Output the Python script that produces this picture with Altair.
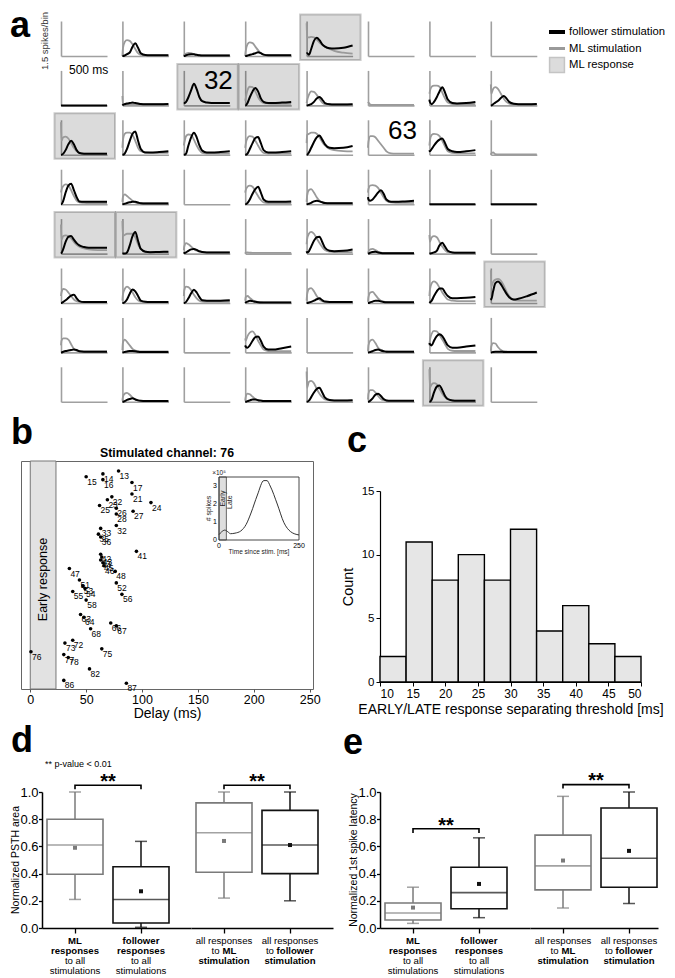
import altair as alt
import pandas as pd

FONT = "Liberation Sans"

# ---------------- panel a : PSTH grid (8 x 8 electrodes) ----------------
PSTH_T = [0, 5, 25, 50, 80, 110, 140, 170, 200, 250, 300, 400, 500]  # ms

ML_STIM = {  # grey traces, spikes/bin at PSTH_T
    (1, 2): [0, 0.3, 0.6, 0.68, 0.65, 0.5, 0.3, 0.12, 0.05, 0.03, 0.03, 0.03, 0.03],
    (1, 3): [0, 0.05, 0.1, 0.13, 0.12, 0.08, 0.05, 0.04, 0.03, 0.03, 0.03, 0.03, 0.03],
    (1, 4): [0, 0.2, 0.5, 0.58, 0.55, 0.4, 0.25, 0.12, 0.06, 0.04, 0.03, 0.03, 0.03],
    (1, 5): [1.4, 0.8, 0.8, 0.82, 0.8, 0.7, 0.58, 0.48, 0.4, 0.3, 0.22, 0.14, 0.1],
    (2, 2): [0.4, 0.08, 0.06, 0.05, 0.05, 0.05, 0.05, 0.05, 0.05, 0.05, 0.05, 0.05, 0.05],
    (2, 4): [0.2, 0.3, 0.65, 0.8, 0.78, 0.6, 0.35, 0.18, 0.1, 0.08, 0.07, 0.07, 0.07],
    (2, 5): [0.1, 0.2, 0.45, 0.6, 0.58, 0.45, 0.28, 0.12, 0.06, 0.05, 0.04, 0.04, 0.04],
    (2, 6): [0.15, 0.12, 0.04, 0.02, 0.02, 0.02, 0.02, 0.02, 0.02, 0.02, 0.02, 0.02, 0.02],
    (2, 7): [0.5, 0.6, 0.8, 0.85, 0.85, 0.8, 0.55, 0.3, 0.12, 0.06, 0.05, 0.05, 0.05],
    (2, 8): [0.9, 0.5, 0.7, 0.78, 0.7, 0.5, 0.3, 0.15, 0.08, 0.05, 0.04, 0.04, 0.04],
    (3, 1): [1.4, 0.6, 0.75, 0.78, 0.7, 0.5, 0.3, 0.15, 0.08, 0.05, 0.05, 0.05, 0.05],
    (3, 2): [0.3, 0.6, 0.9, 0.95, 0.95, 0.85, 0.6, 0.3, 0.15, 0.1, 0.08, 0.08, 0.08],
    (3, 3): [0.4, 0.5, 0.8, 0.87, 0.85, 0.65, 0.4, 0.2, 0.08, 0.05, 0.05, 0.05, 0.05],
    (3, 4): [0.3, 0.45, 0.72, 0.8, 0.78, 0.6, 0.4, 0.2, 0.08, 0.05, 0.05, 0.05, 0.05],
    (3, 5): [0.5, 0.85, 0.9, 0.95, 0.95, 0.9, 0.75, 0.55, 0.4, 0.25, 0.2, 0.16, 0.15],
    (3, 6): [0.3, 0.55, 0.8, 0.8, 0.75, 0.6, 0.45, 0.3, 0.15, 0.06, 0.05, 0.05, 0.05],
    (3, 7): [0.4, 0.6, 0.85, 0.9, 0.88, 0.8, 0.6, 0.35, 0.15, 0.08, 0.06, 0.06, 0.06],
    (3, 8): [0, 0.05, 0.1, 0.03, 0.02, 0.02, 0.02, 0.02, 0.02, 0.02, 0.02, 0.02, 0.02],
    (4, 1): [0.5, 0.6, 0.78, 0.85, 0.8, 0.6, 0.35, 0.15, 0.08, 0.06, 0.05, 0.05, 0.05],
    (4, 2): [0.1, 0.3, 0.42, 0.35, 0.25, 0.15, 0.08, 0.05, 0.04, 0.04, 0.04, 0.04, 0.04],
    (4, 4): [0.5, 0.6, 0.75, 0.8, 0.75, 0.55, 0.35, 0.18, 0.08, 0.05, 0.05, 0.05, 0.05],
    (4, 5): [0.1, 0.35, 0.6, 0.65, 0.5, 0.3, 0.15, 0.08, 0.05, 0.04, 0.04, 0.04, 0.04],
    (4, 6): [0.5, 0.65, 0.8, 0.82, 0.8, 0.7, 0.5, 0.3, 0.15, 0.08, 0.06, 0.06, 0.06],
    (5, 1): [1.25, 0.6, 0.75, 0.78, 0.75, 0.65, 0.5, 0.38, 0.3, 0.22, 0.18, 0.15, 0.15],
    (5, 2): [1.4, 0.75, 0.8, 0.85, 0.85, 0.85, 0.7, 0.4, 0.2, 0.08, 0.06, 0.06, 0.06],
    (5, 3): [0.15, 0.3, 0.45, 0.4, 0.3, 0.2, 0.12, 0.08, 0.06, 0.05, 0.05, 0.05, 0.05],
    (5, 4): [0, 0.04, 0.05, 0.04, 0.03, 0.03, 0.03, 0.03, 0.03, 0.03, 0.03, 0.03, 0.03],
    (5, 5): [0.4, 0.6, 0.85, 0.93, 0.85, 0.65, 0.45, 0.28, 0.15, 0.08, 0.06, 0.06, 0.06],
    (5, 6): [0, 0.08, 0.18, 0.2, 0.15, 0.08, 0.04, 0.03, 0.03, 0.03, 0.03, 0.03, 0.03],
    (5, 7): [0.8, 0.5, 0.7, 0.75, 0.7, 0.5, 0.3, 0.15, 0.06, 0.04, 0.04, 0.04, 0.04],
    (6, 1): [0.3, 0.45, 0.6, 0.58, 0.45, 0.3, 0.15, 0.08, 0.05, 0.04, 0.04, 0.04, 0.04],
    (6, 2): [0.1, 0.35, 0.6, 0.7, 0.62, 0.45, 0.25, 0.12, 0.06, 0.04, 0.04, 0.04, 0.04],
    (6, 3): [0.3, 0.55, 0.7, 0.68, 0.55, 0.35, 0.2, 0.1, 0.06, 0.05, 0.05, 0.05, 0.05],
    (6, 4): [0.1, 0.25, 0.3, 0.22, 0.12, 0.07, 0.05, 0.04, 0.03, 0.03, 0.03, 0.03, 0.03],
    (6, 5): [0.1, 0.35, 0.6, 0.64, 0.5, 0.3, 0.15, 0.08, 0.05, 0.04, 0.04, 0.04, 0.04],
    (6, 6): [0.05, 0.25, 0.45, 0.48, 0.35, 0.2, 0.1, 0.06, 0.04, 0.03, 0.03, 0.03, 0.03],
    (6, 7): [0.3, 0.55, 0.85, 0.93, 0.85, 0.65, 0.45, 0.28, 0.15, 0.1, 0.08, 0.08, 0.08],
    (6, 8): [1.4, 0.7, 0.9, 1.0, 1.03, 0.95, 0.75, 0.5, 0.3, 0.12, 0.1, 0.1, 0.1],
    (7, 1): [0.3, 0.5, 0.6, 0.6, 0.55, 0.35, 0.15, 0.07, 0.04, 0.04, 0.04, 0.04, 0.04],
    (7, 2): [0.1, 0.4, 0.55, 0.45, 0.3, 0.15, 0.08, 0.05, 0.04, 0.04, 0.04, 0.04, 0.04],
    (7, 4): [0.6, 0.5, 0.7, 0.85, 0.9, 0.75, 0.5, 0.3, 0.12, 0.06, 0.05, 0.05, 0.05],
    (7, 6): [0.05, 0.3, 0.5, 0.55, 0.4, 0.2, 0.1, 0.06, 0.04, 0.03, 0.03, 0.03, 0.03],
    (7, 7): [0.3, 0.5, 0.8, 0.92, 0.9, 0.75, 0.55, 0.35, 0.15, 0.07, 0.06, 0.06, 0.06],
    (7, 8): [0.05, 0.25, 0.4, 0.38, 0.22, 0.1, 0.05, 0.04, 0.03, 0.03, 0.03, 0.03, 0.03],
    (8, 2): [0.05, 0.2, 0.35, 0.38, 0.3, 0.18, 0.1, 0.06, 0.04, 0.03, 0.03, 0.03, 0.03],
    (8, 4): [0.05, 0.2, 0.35, 0.32, 0.22, 0.12, 0.07, 0.05, 0.04, 0.03, 0.03, 0.03, 0.03],
    (8, 5): [1.3, 0.6, 0.85, 0.9, 0.8, 0.55, 0.35, 0.2, 0.1, 0.06, 0.05, 0.05, 0.05],
    (8, 6): [0.1, 0.35, 0.5, 0.5, 0.4, 0.25, 0.12, 0.07, 0.05, 0.04, 0.04, 0.04, 0.04],
    (8, 7): [1.4, 0.6, 0.75, 0.8, 0.75, 0.55, 0.35, 0.2, 0.1, 0.06, 0.05, 0.05, 0.05],
}

FOLLOWER_STIM = {  # black traces, spikes/bin at PSTH_T
    (1, 2): [0, 0, 0.02, 0.08, 0.15, 0.4, 0.55, 0.35, 0.12, 0.04, 0.03, 0.03, 0.03],
    (1, 3): [0, 0, 0.03, 0.06, 0.08, 0.07, 0.05, 0.03, 0.02, 0.02, 0.02, 0.02, 0.02],
    (1, 4): [0, 0, 0.02, 0.05, 0.08, 0.12, 0.16, 0.12, 0.06, 0.03, 0.03, 0.03, 0.03],
    (1, 5): [0.1, 0.12, 0.05, 0.3, 0.65, 0.78, 0.68, 0.5, 0.4, 0.33, 0.32, 0.35, 0.45],
    (2, 1): [0, 0, 0, 0, 0, 0, 0, 0, 0, 0, 0, 0, 0],
    (2, 2): [0, 0.02, 0.05, 0.08, 0.1, 0.12, 0.1, 0.08, 0.06, 0.05, 0.05, 0.05, 0.06],
    (2, 3): [0.1, 0.1, 0.15, 0.35, 0.65, 0.93, 0.7, 0.35, 0.18, 0.12, 0.1, 0.1, 0.1],
    (2, 4): [0, 0, 0.1, 0.35, 0.6, 0.75, 0.6, 0.3, 0.15, 0.1, 0.1, 0.12, 0.15],
    (2, 5): [0, 0, 0.02, 0.05, 0.15, 0.3, 0.36, 0.25, 0.1, 0.05, 0.04, 0.04, 0.05],
    (2, 7): [0.25, 0.15, 0.05, 0.15, 0.35, 0.6, 0.78, 0.55, 0.25, 0.1, 0.08, 0.1, 0.15],
    (2, 8): [0, 0, 0.05, 0.12, 0.2, 0.32, 0.4, 0.3, 0.15, 0.07, 0.05, 0.05, 0.06],
    (3, 1): [0, 0, 0.05, 0.2, 0.45, 0.6, 0.45, 0.2, 0.08, 0.05, 0.05, 0.05, 0.05],
    (3, 2): [0, 0, 0.05, 0.25, 0.6, 0.9, 1.0, 0.6, 0.25, 0.1, 0.1, 0.12, 0.15],
    (3, 3): [0, 0, 0.05, 0.4, 0.75, 0.95, 0.75, 0.4, 0.18, 0.1, 0.1, 0.12, 0.15],
    (3, 4): [0, 0, 0.05, 0.25, 0.5, 0.72, 0.76, 0.5, 0.2, 0.1, 0.1, 0.12, 0.15],
    (3, 5): [0, 0, 0.1, 0.3, 0.55, 0.75, 0.83, 0.65, 0.45, 0.3, 0.28, 0.3, 0.38],
    (3, 7): [0.2, 0.15, 0.25, 0.4, 0.55, 0.65, 0.7, 0.5, 0.25, 0.15, 0.12, 0.15, 0.2],
    (4, 1): [0, 0, 0.15, 0.5, 0.8, 0.88, 0.6, 0.3, 0.12, 0.1, 0.1, 0.1, 0.1],
    (4, 2): [0, 0, 0.02, 0.05, 0.08, 0.1, 0.1, 0.07, 0.04, 0.03, 0.03, 0.03, 0.03],
    (4, 4): [0, 0, 0.05, 0.2, 0.45, 0.65, 0.75, 0.5, 0.2, 0.1, 0.1, 0.1, 0.12],
    (4, 5): [0, 0, 0.02, 0.06, 0.12, 0.15, 0.12, 0.08, 0.05, 0.04, 0.04, 0.04, 0.04],
    (4, 6): [0.3, 0.2, 0.15, 0.2, 0.35, 0.5, 0.6, 0.45, 0.2, 0.1, 0.1, 0.12, 0.15],
    (4, 7): [0, 0, 0, 0, 0, 0, 0, 0, 0, 0, 0, 0, 0],
    (4, 8): [0, 0, 0, 0, 0, 0, 0, 0, 0, 0, 0, 0, 0],
    (5, 1): [0, 0.02, 0.2, 0.5, 0.72, 0.75, 0.6, 0.45, 0.35, 0.28, 0.25, 0.25, 0.25],
    (5, 2): [0, 0, 0, 0.05, 0.35, 0.75, 0.93, 0.55, 0.2, 0.08, 0.06, 0.07, 0.08],
    (5, 3): [0, 0.02, 0.05, 0.12, 0.18, 0.2, 0.16, 0.1, 0.07, 0.05, 0.05, 0.05, 0.05],
    (5, 5): [0.1, 0.05, 0.1, 0.3, 0.55, 0.7, 0.72, 0.5, 0.25, 0.12, 0.1, 0.12, 0.18],
    (5, 6): [0, 0, 0.04, 0.07, 0.08, 0.05, 0.03, 0.02, 0.02, 0.02, 0.02, 0.02, 0.02],
    (5, 7): [0, 0, 0.02, 0.05, 0.12, 0.35, 0.46, 0.3, 0.12, 0.05, 0.04, 0.04, 0.04],
    (6, 1): [0, 0, 0.05, 0.12, 0.22, 0.32, 0.35, 0.2, 0.08, 0.04, 0.04, 0.04, 0.04],
    (6, 2): [0, 0, 0.03, 0.15, 0.4, 0.58, 0.5, 0.3, 0.1, 0.05, 0.04, 0.04, 0.04],
    (6, 3): [0, 0, 0.05, 0.2, 0.42, 0.57, 0.45, 0.25, 0.12, 0.1, 0.1, 0.1, 0.12],
    (6, 4): [0, 0.02, 0.06, 0.1, 0.08, 0.05, 0.03, 0.02, 0.02, 0.02, 0.02, 0.02, 0.02],
    (6, 5): [0, 0, 0.02, 0.05, 0.1, 0.16, 0.2, 0.12, 0.06, 0.04, 0.04, 0.04, 0.04],
    (6, 6): [0, 0, 0.03, 0.06, 0.1, 0.1, 0.07, 0.04, 0.03, 0.03, 0.03, 0.03, 0.03],
    (6, 7): [0, 0.02, 0.1, 0.3, 0.5, 0.62, 0.62, 0.45, 0.3, 0.2, 0.2, 0.22, 0.26],
    (6, 8): [0.2, 0.15, 0.5, 0.85, 0.92, 0.8, 0.6, 0.4, 0.25, 0.15, 0.18, 0.3, 0.45],
    (7, 1): [0, 0, 0.03, 0.06, 0.08, 0.1, 0.12, 0.1, 0.05, 0.03, 0.03, 0.03, 0.03],
    (7, 2): [0, 0, 0.02, 0.04, 0.06, 0.06, 0.05, 0.03, 0.02, 0.02, 0.02, 0.02, 0.02],
    (7, 4): [0.3, 0.25, 0.2, 0.3, 0.5, 0.65, 0.68, 0.5, 0.25, 0.12, 0.12, 0.18, 0.25],
    (7, 6): [0, 0, 0.02, 0.05, 0.1, 0.12, 0.08, 0.05, 0.03, 0.03, 0.03, 0.03, 0.03],
    (7, 7): [0.4, 0.35, 0.3, 0.5, 0.7, 0.78, 0.7, 0.5, 0.3, 0.2, 0.2, 0.25, 0.3],
    (7, 8): [0, 0, 0.02, 0.03, 0.03, 0.03, 0.02, 0.02, 0.02, 0.02, 0.02, 0.02, 0.02],
    (8, 2): [0, 0, 0.03, 0.08, 0.12, 0.15, 0.1, 0.06, 0.04, 0.03, 0.03, 0.03, 0.03],
    (8, 4): [0, 0, 0.03, 0.06, 0.1, 0.1, 0.07, 0.05, 0.03, 0.03, 0.03, 0.03, 0.03],
    (8, 5): [0, 0, 0.05, 0.2, 0.4, 0.55, 0.6, 0.4, 0.18, 0.08, 0.06, 0.06, 0.07],
    (8, 6): [0, 0, 0.05, 0.15, 0.3, 0.35, 0.25, 0.12, 0.06, 0.04, 0.04, 0.04, 0.04],
    (8, 7): [0, 0, 0.1, 0.4, 0.65, 0.7, 0.5, 0.25, 0.12, 0.06, 0.05, 0.05, 0.05],
}

ML_RESPONSE_CELLS = [(1, 5), (2, 3), (2, 4), (3, 1), (5, 1), (5, 2), (6, 8), (8, 7)]
CELL_NUMBERS = {(2, 3): "32", (3, 6): "63"}
LEGEND_LABELS = ["follower stimulation", "ML stimulation", "ML response"]

# ---------------- panel b ----------------
B_CHANNELS = [13, 14, 15, 16, 17, 21, 22, 23, 24, 25, 26, 27, 28, 32, 33, 35, 36, 41, 42, 43,
              44, 45, 46, 47, 48, 51, 52, 53, 54, 55, 56, 58, 63, 64, 66, 67, 68, 72, 73, 75,
              76, 77, 78, 82, 86, 87]
B_DELAYS = [79, 65, 50, 65, 91, 91, 73, 69, 108, 62, 77, 92, 77, 77, 63, 61, 63, 95, 63, 64,
            63, 65, 66, 35, 76, 44, 77, 47, 49, 38, 82, 50, 45, 48, 72, 77, 54, 38, 31, 64,
            0.6, 30, 34, 53, 30, 86]
B_EARLY_MS = [0, 23]
INSET_T = [0, 8, 18, 28, 36, 50, 68, 85, 100, 120, 140, 150, 160, 182, 203, 224, 250]
INSET_SPIKES = [0.3, 0.45, 0.55, 0.45, 0.35, 0.38, 0.5, 0.87, 1.5, 2.5, 3.3, 3.3, 3.0, 2.0, 0.96, 0.46, 0.28]
INSET_EARLY_MS = 23

# ---------------- panel c ----------------
C_BIN_START = [10, 14, 18, 22, 26, 30, 34, 38, 42, 46]
C_BIN_WIDTH = 4
C_COUNTS = [2, 11, 8, 10, 8, 12, 4, 6, 3, 2]

# ---------------- panels d, e ----------------
BOX_KEYS = ["ml_all", "fol_all", "all_ml", "all_fol"]
D_STATS = {
    "lo": [0.21, 0.005, 0.22, 0.20],
    "q1": [0.395, 0.037, 0.41, 0.40],
    "med": [0.61, 0.21, 0.70, 0.61],
    "q3": [0.80, 0.45, 0.92, 0.865],
    "hi": [1.0, 0.637, 1.0, 1.0],
    "mean": [0.59, 0.27, 0.64, 0.61],
}
E_STATS = {
    "lo": [0.034, 0.076, 0.147, 0.18],
    "q1": [0.059, 0.142, 0.28, 0.30],
    "med": [0.11, 0.26, 0.457, 0.513],
    "q3": [0.184, 0.447, 0.683, 0.882],
    "hi": [0.30, 0.663, 0.968, 1.0],
    "mean": [0.15, 0.324, 0.496, 0.567],
}
D_COLORS = ["#7a7a7a", "#111111", "#b8b8b8", "#111111"]
E_COLORS = ["#888888", "#111111", "#b8b8b8", "#222222"]
BOX_LABELS = [  # (category, line, text, bold, align, dx)
    ("ml_all", 0, "ML", True, "center", 0), ("ml_all", 1, "responses", True, "center", 0),
    ("ml_all", 2, "to all", False, "center", 0), ("ml_all", 3, "stimulations", False, "center", 0),
    ("fol_all", 0, "follower", True, "center", 0), ("fol_all", 1, "responses", True, "center", 0),
    ("fol_all", 2, "to all", False, "center", 0), ("fol_all", 3, "stimulations", False, "center", 0),
    ("all_ml", 0, "all responses", False, "center", 0), ("all_ml", 1, "to", False, "right", -4.4),
    ("all_ml", 1, "ML", True, "left", -1.6), ("all_ml", 2, "stimulation", True, "center", 0),
    ("all_fol", 0, "all responses", False, "center", 0), ("all_fol", 1, "to", False, "right", -16.1),
    ("all_fol", 1, "follower", True, "left", -13.4), ("all_fol", 2, "stimulation", True, "center", 0),
]
LABEL_LINE_DY = [12.5, 22.8, 33.1, 43.4]
BOX_H = 136


def letter(ch, x, y):
    return alt.Chart(pd.DataFrame({"t": [ch]})).mark_text(
        align="left", baseline="alphabetic", fontSize=36, fontWeight="bold", color="black"
    ).encode(x=alt.value(x), y=alt.value(y), text="t:N")


def guard(x, y, align="left", baseline="top"):
    # a blank text that pins the outer extent of a panel for the concat layout
    return alt.Chart(pd.DataFrame({"g": [" "]})).mark_text(
        fontSize=2, align=align, baseline=baseline, color="white"
    ).encode(x=alt.value(x), y=alt.value(y), text="g:N")


def spacer():
    return alt.Chart(pd.DataFrame({"z": [0]})).mark_point(size=1, opacity=0, strokeWidth=0).encode(
        x=alt.value(1), y=alt.value(1)).properties(width=2, height=2)


# ---------- build panel a ----------
rows = []
for r in range(1, 9):
    for c in range(1, 9):
        rows.append({"r": r, "c": c, "kind": "cell"})
for (r, c), vals in ML_STIM.items():
    for t, v in zip(PSTH_T, vals):
        rows.append({"r": r, "c": c, "kind": "gray", "t": t, "v": v})
for (r, c), vals in FOLLOWER_STIM.items():
    for t, v in zip(PSTH_T, vals):
        rows.append({"r": r, "c": c, "kind": "black", "t": t, "v": v})
for (r, c) in ML_RESPONSE_CELLS:
    rows.append({"r": r, "c": c, "kind": "hl"})
for (r, c), s in CELL_NUMBERS.items():
    rows.append({"r": r, "c": c, "kind": "num", "txt": s})
rows.append({"r": 1, "c": 1, "kind": "letter", "txt": "a"})
rows.append({"r": 1, "c": 1, "kind": "spk", "txt": "1.5 spikes/bin"})
rows.append({"r": 2, "c": 1, "kind": "ms", "txt": "500 ms"})
df_a = pd.DataFrame(rows)

ax_a = alt.Axis(labels=False, ticks=False, grid=False, title=None, domainColor="#a0a0a0", domainWidth=1.6)
x_a = alt.X("t:Q", scale=alt.Scale(domain=[0, 500], nice=False), axis=ax_a)
y_a = alt.Y("v:Q", scale=alt.Scale(domain=[0, 1.5], nice=False), axis=ax_a)

hl = alt.Chart().transform_filter("datum.kind == 'hl'").mark_rect(
    fill="black", fillOpacity=0.14, stroke="black", strokeOpacity=0.2, strokeWidth=2
).encode(x=alt.value(-6.5), x2=alt.value(54), y=alt.value(-6.5), y2=alt.value(39))
gray = alt.Chart().transform_filter("datum.kind == 'gray'").mark_line(
    color="#9a9a9a", strokeWidth=1.8, interpolate="monotone").encode(x=x_a, y=y_a)
black = alt.Chart().transform_filter("datum.kind == 'black'").mark_line(
    color="black", strokeWidth=2, interpolate="monotone").encode(x=x_a, y=y_a)
nums = alt.Chart().transform_filter("datum.kind == 'num'").mark_text(
    align="right", baseline="alphabetic", fontSize=26, color="black"
).encode(x=alt.value(49), y=alt.value(19), text="txt:N")
let_a = alt.Chart().transform_filter("datum.kind == 'letter'").mark_text(
    align="left", baseline="alphabetic", fontSize=36, fontWeight="bold", color="black"
).encode(x=alt.value(-51), y=alt.value(16), text="txt:N")
spk = alt.Chart().transform_filter("datum.kind == 'spk'").mark_text(
    angle=270, fontSize=9.5, color="#333", baseline="middle"
).encode(x=alt.value(-16), y=alt.value(20), text="txt:N")
ms = alt.Chart().transform_filter("datum.kind == 'ms'").mark_text(
    align="left", baseline="alphabetic", fontSize=12, color="black"
).encode(x=alt.value(8), y=alt.value(4), text="txt:N")

grid = alt.layer(hl, gray, black, nums, let_a, spk, ms, data=df_a).properties(
    width=46, height=35
).facet(
    row=alt.Row("r:O", title=None, header=None),
    column=alt.Column("c:O", title=None, header=None),
    spacing={"row": 14.4, "column": 15.4},
    bounds="flush",
).resolve_axis(x="independent", y="independent")

leg_df = pd.DataFrame({"label": LEGEND_LABELS, "kind": ["black", "gray", "box"]})
leg_y = alt.Y("label:N", sort=LEGEND_LABELS, axis=None,
              scale=alt.Scale(type="point", domain=LEGEND_LABELS, padding=0.667))
leg_base = alt.Chart(leg_df)
legend = alt.layer(
    leg_base.transform_filter("datum.kind == 'black'").mark_rule(color="black", strokeWidth=4).encode(
        x=alt.value(0), x2=alt.value(16), y=leg_y),
    leg_base.transform_filter("datum.kind == 'gray'").mark_rule(color="#9a9a9a", strokeWidth=3).encode(
        x=alt.value(0), x2=alt.value(16), y=leg_y),
    leg_base.transform_filter("datum.kind == 'box'").mark_square(
        size=220, fill="#dcdcdc", stroke="#c4c4c4", strokeWidth=1.5, opacity=1).encode(x=alt.value(8), y=leg_y),
    leg_base.mark_text(align="left", baseline="middle", fontSize=11.3, color="black").encode(
        x=alt.value(20), y=leg_y, text="label:N"),
    guard(-2, 0),
).properties(width=16, height=55)

row1 = alt.hconcat(spacer(), grid, legend, spacing=0)

# ---------- build panel b ----------
b_df = pd.DataFrame({"ch": B_CHANNELS, "delay": B_DELAYS, "lab": [str(c) for c in B_CHANNELS]})
early_df = pd.DataFrame({"delay": [B_EARLY_MS[0]], "delay_end": [B_EARLY_MS[1]], "txt": ["Early response"]})
bx_axis = alt.Axis(values=[0, 50, 100, 150, 200, 250], title="Delay (ms)", grid=False, domain=False,
                   tickSize=3, tickColor="#555", labelFontSize=12.5, titleFontSize=14,
                   titleFontWeight="normal", labelColor="black", titleColor="black",
                   labelPadding=1.5, titlePadding=0.5)
bx_scale = alt.Scale(domain=[-8.3, 253], nice=False)


def BX(f):
    return alt.X(f"{f}:Q", scale=bx_scale, axis=bx_axis)


by = alt.Y("ch:Q", scale=alt.Scale(domain=[9.5, 89], reverse=True, nice=False), axis=None)

early_rect = alt.Chart(early_df).mark_rect(fill="#e2e2e2", stroke="#777", strokeWidth=1).encode(
    x=BX("delay"), x2="delay_end:Q", y=alt.value(0), y2=alt.value(228))
early_txt = alt.Chart(early_df).transform_calculate(
    mid="(datum.delay + datum.delay_end) / 2").mark_text(
    angle=270, fontSize=12.5, baseline="middle", color="black").encode(
    x=BX("mid"), y=alt.value(118.5), text="txt:N")
dots = alt.Chart(b_df).mark_circle(size=13, color="black", opacity=1).encode(x=BX("delay"), y=by)
dot_labs = alt.Chart(b_df).mark_text(align="left", baseline="middle", dx=1, dy=5, fontSize=8.5,
                                     color="black").encode(x=BX("delay"), y=by, text="lab:N")
b_title = alt.Chart(pd.DataFrame({"t": ["Stimulated channel: 76"]})).mark_text(
    align="center", baseline="alphabetic", fontSize=12.3, fontWeight="bold", color="black"
).encode(x=alt.value(146), y=alt.value(-4), text="t:N")
main_b = alt.layer(early_rect, early_txt, dots, dot_labs, b_title, letter("b", -10, -17),
                   guard(300, -50, align="right"), guard(0, 260, baseline="bottom"))

ix = alt.Scale(domain=[0, 250], range=[198, 278], nice=False)
iy = alt.Scale(domain=[0, 3.5], range=[79, 16], nice=False)


def IX(f):
    return alt.X(f"{f}:Q", scale=ix, axis=None)


def IY(f):
    return alt.Y(f"{f}:Q", scale=iy, axis=None)


inset_df = pd.DataFrame({"t": INSET_T, "v": INSET_SPIKES})
inset_early = alt.Chart(pd.DataFrame({"x0": [0], "x1": [INSET_EARLY_MS], "y0": [0], "y1": [3.5]})).mark_rect(
    fill="#dedede", stroke="#444", strokeWidth=0.8).encode(x=IX("x0"), x2="x1:Q", y=IY("y0"), y2="y1:Q")
inset_frame = alt.Chart(pd.DataFrame({"x0": [0], "x1": [250], "y0": [0], "y1": [3.5]})).mark_rect(
    fillOpacity=0, stroke="#333", strokeWidth=0.9).encode(x=IX("x0"), x2="x1:Q", y=IY("y0"), y2="y1:Q")
inset_line = alt.Chart(inset_df).mark_line(color="#333", strokeWidth=1, interpolate="monotone").encode(
    x=IX("t"), y=IY("v"))
yt = alt.Chart(pd.DataFrame({"x": [0] * 4, "y": [0, 1, 2, 3], "lab": ["0", "1", "2", "3"]})).mark_text(
    align="right", baseline="middle", dx=-2, fontSize=7, color="black").encode(x=IX("x"), y=IY("y"), text="lab:N")
xt = alt.Chart(pd.DataFrame({"x": [0, 250], "y": [0, 0], "lab": ["0", "250"]})).mark_text(
    align="center", baseline="top", dy=2, fontSize=7, color="black").encode(x=IX("x"), y=IY("y"), text="lab:N")
xtitle = alt.Chart(pd.DataFrame({"x": [125], "y": [0], "lab": ["Time since stim. [ms]"]})).mark_text(
    align="center", baseline="top", dy=9, fontSize=6.5, color="#222").encode(x=IX("x"), y=IY("y"), text="lab:N")
exp_lab = alt.Chart(pd.DataFrame({"x": [0], "y": [3.5], "lab": ["×10⁵"]})).mark_text(
    align="center", baseline="bottom", dy=-1, fontSize=6.5, color="#222").encode(x=IX("x"), y=IY("y"), text="lab:N")
rot_labs = alt.Chart(pd.DataFrame({"x": [-30, 11.5, 34], "y": [1.75, 2.3, 2.1],
                                   "lab": ["# spikes", "Early", "Late"]})).mark_text(
    angle=270, baseline="middle", fontSize=7, color="#222").encode(x=IX("x"), y=IY("y"), text="lab:N")
inset_b = alt.layer(inset_early, inset_frame, inset_line, yt, xt, xtitle, exp_lab, rot_labs)

panel_b = alt.layer(main_b, inset_b).resolve_scale(x="independent", y="independent").properties(
    width=292, height=228,
    view=alt.ViewBackground(stroke="#666", strokeWidth=1),
)

# ---------- build panel c ----------
c_df = pd.DataFrame({"lo": C_BIN_START, "hi": [s + C_BIN_WIDTH for s in C_BIN_START], "count": C_COUNTS})
c_bars = alt.Chart(c_df).mark_bar(fill="#e6e6e6", stroke="black", strokeWidth=1.4).encode(
    x=alt.X("lo:Q", scale=alt.Scale(domain=[10, 50], nice=False),
            axis=alt.Axis(values=list(range(10, 51, 5)), title="EARLY/LATE response separating threshold [ms]",
                          titleFontSize=14, titleFontWeight="normal", labelFontSize=12, tickSize=4,
                          tickColor="black", domainColor="black", domainWidth=1.2, labelColor="black",
                          titleColor="black", grid=False, labelPadding=2, titlePadding=3)),
    x2="hi:Q",
    y=alt.Y("count:Q", scale=alt.Scale(domain=[0, 15], nice=False),
            axis=alt.Axis(values=[0, 5, 10, 15], title="Count", titleFontSize=14.5, titleFontWeight="normal",
                          labelFontSize=11.5, tickSize=4, tickColor="black", domainColor="black",
                          domainWidth=1.2, labelColor="black", titleColor="black", grid=False,
                          labelPadding=2, titlePadding=6)),
    y2=alt.datum(0),
)
panel_c = alt.layer(c_bars, letter("c", -33, -39), guard(-58, -81)).properties(width=261, height=191)

b_col = alt.vconcat(spacer(), panel_b, spacing=0)
c_col = alt.vconcat(spacer(), panel_c, spacing=0)
row2 = alt.hconcat(spacer(), b_col, c_col, spacing=0)


# ---------- build panels d, e ----------
def box_panel(keys, stats, colors, width, pad, align, bracket, y_title=None, extras=()):
    idx = [BOX_KEYS.index(k) for k in keys]
    df = pd.DataFrame({"cat": keys, **{k: [v[i] for i in idx] for k, v in stats.items()}})
    axis_x = alt.Axis(labels=False, title=None, ticks=True, tickSize=5, tickWidth=1.3, tickColor="black",
                      domainColor="black", domainWidth=1.5, grid=False)
    xenc = alt.X("cat:N", sort=keys, scale=alt.Scale(type="point", domain=keys, padding=pad, align=align),
                 axis=axis_x)
    if y_title:
        yaxis = alt.Axis(values=[0, 0.2, 0.4, 0.6, 0.8, 1.0], format=".1f", title=None,
                         labelFontSize=13, tickSize=3.5, tickWidth=1.3,
                         tickColor="black", domainColor="black", domainWidth=1.5, labelPadding=0.5,
                         grid=False, labelColor="black")
    else:
        yaxis = None
    ysc = alt.Scale(domain=[0, 1], nice=False)

    def Y(f):
        return alt.Y(f"{f}:Q", scale=ysc, axis=yaxis)

    col = alt.Color("cat:N", scale=alt.Scale(domain=keys, range=colors), legend=None)
    stroke = alt.Stroke("cat:N", scale=alt.Scale(domain=keys, range=colors), legend=None)
    base = alt.Chart(df)
    layers = [
        base.mark_rule(strokeWidth=1.5).encode(x=xenc, y=Y("lo"), y2="hi:Q", color=col),
        base.mark_tick(size=12, thickness=1.5).encode(x=xenc, y=Y("lo"), color=col),
        base.mark_tick(size=12, thickness=1.5).encode(x=xenc, y=Y("hi"), color=col),
        base.mark_bar(size=56, fill="white", strokeWidth=1.6).encode(x=xenc, y=Y("q1"), y2="q3:Q", stroke=stroke),
        base.mark_tick(size=56, thickness=1.6).encode(x=xenc, y=Y("med"), color=col),
        base.mark_square(size=16, opacity=1).encode(x=xenc, y=Y("mean"), color=col),
    ]
    if y_title:
        layers.append(alt.Chart(pd.DataFrame({"t": [y_title]})).mark_text(
            angle=270, baseline="middle", fontSize=10.5, color="black"
        ).encode(x=alt.value(-26.3), y=alt.value(BOX_H / 2), text="t:N"))
    if bracket:
        k1, k2, top, drop, star = bracket
        bdf = pd.DataFrame({"cat": [k1, k1, k2, k2], "y": [drop, top, top, drop], "o": [0, 1, 2, 3]})
        layers.append(alt.Chart(bdf).mark_line(color="black", strokeWidth=1.6).encode(
            x=xenc, y=Y("y"), order="o:Q"))
        sdf = pd.DataFrame({"cat": [k1], "y": [star], "s": ["**"]})
        layers.append(alt.Chart(sdf).mark_text(dx=33, fontSize=20, fontWeight="bold", baseline="middle",
                                               color="black").encode(x=xenc, y=Y("y"), text="s:N"))
    for (k, line, txt, bold, al, dx) in BOX_LABELS:
        if k not in keys:
            continue
        layers.append(alt.Chart(pd.DataFrame({"cat": [k], "txt": [txt]})).mark_text(
            align=al, dx=dx, baseline="middle", fontSize=9.6, fontWeight="bold" if bold else "normal",
            color="black").encode(x=xenc, y=alt.value(BOX_H + LABEL_LINE_DY[line]), text="txt:N"))
    layers.extend(extras)
    return alt.layer(*layers).properties(width=width, height=BOX_H)


pval = alt.Chart(pd.DataFrame({"t": ["** p-value < 0.01"]})).mark_text(
    align="left", baseline="middle", fontSize=9, color="black").encode(x=alt.value(3), y=alt.value(-28), text="t:N")

d_l = box_panel(BOX_KEYS[:2], D_STATS, D_COLORS[:2], 149, 0.6288, 0.3976,
                ("ml_all", "fol_all", 1.05, 1.02, 1.075), "Normalized PSTH area",
                extras=[letter("d", -31, -40), pval, guard(-31.7, -70)])
d_r = box_panel(BOX_KEYS[2:], D_STATS, D_COLORS[2:], 142, 0.5758, 0.4342,
                ("all_ml", "all_fol", 1.05, 1.02, 1.075), extras=[guard(143, 0, align="right")])
e_l = box_panel(BOX_KEYS[:2], E_STATS, E_COLORS[:2], 150, 0.6364, 0.3929,
                ("ml_all", "fol_all", 0.73, 0.698, 0.753), "Normalized 1st spike latency",
                extras=[letter("e", -37, -38), guard(-46, 0)])
e_r = box_panel(BOX_KEYS[2:], E_STATS, E_COLORS[2:], 128, 0.4697, 0.5323,
                ("all_ml", "all_fol", 1.054, 1.025, 1.083))

d_pair = alt.hconcat(d_l, d_r, spacing=0, bounds="flush")
e_pair = alt.hconcat(e_l, e_r, spacing=0, bounds="flush")
row3 = alt.hconcat(spacer(), d_pair, e_pair, spacing=0)

chart = alt.vconcat(
    row1,
    alt.vconcat(row2, row3, spacing=0),
    spacing=1,
).properties(padding=0).configure(font=FONT).configure_view(stroke=None)

chart.save("out.html", embed_options={"renderer": "svg", "actions": False})
